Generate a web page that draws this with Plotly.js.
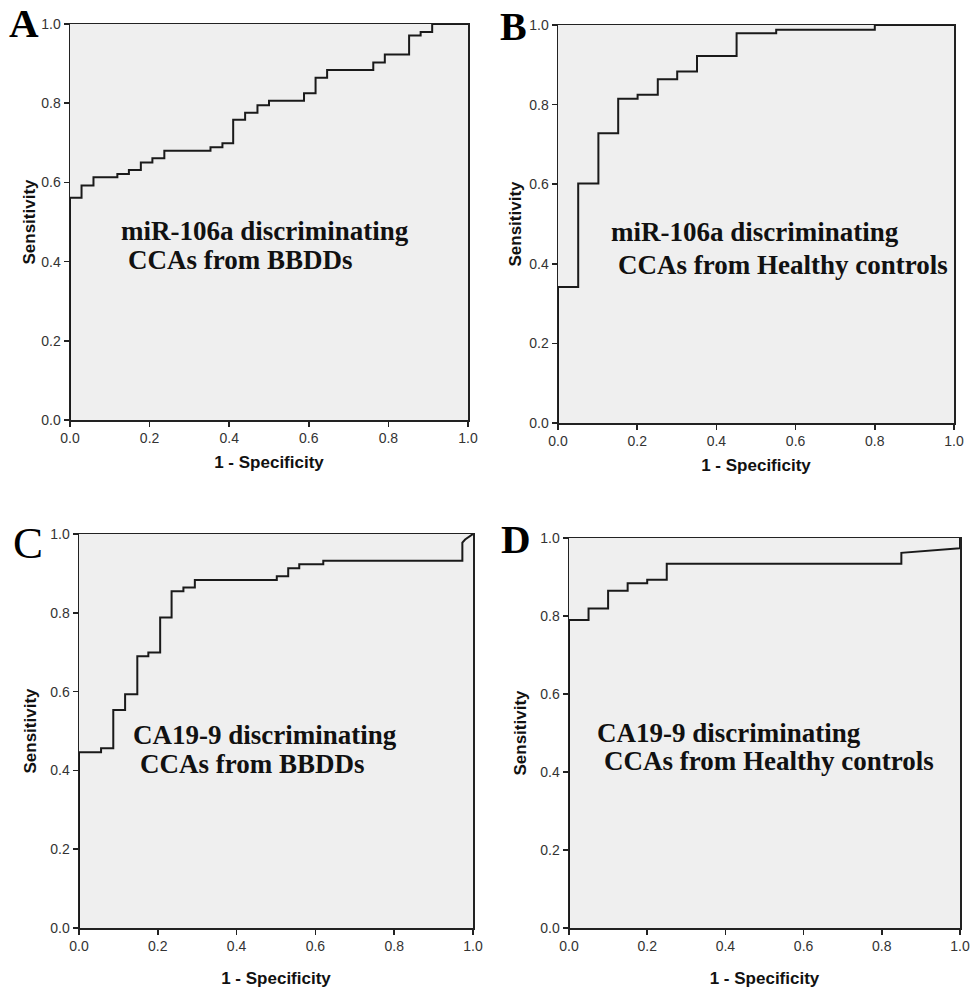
<!DOCTYPE html>
<html>
<head>
<meta charset="utf-8">
<script src="https://cdn.plot.ly/plotly-3.0.1.min.js"></script>
<style>html,body{margin:0;padding:0;background:#fff;}#chart{width:974px;height:991px;}</style>
</head>
<body>
<div id="chart"></div>
<script>
// Panel A: miR-106a, CCAs vs BBDDs (ROC coordinates: 1 - specificity, sensitivity)
var fprA = [0, 0, 0.029, 0.029, 0.059, 0.059, 0.119, 0.119, 0.148, 0.148, 0.178, 0.178, 0.207, 0.207, 0.237, 0.237, 0.353, 0.353, 0.383, 0.383, 0.410, 0.410, 0.440, 0.440, 0.471, 0.471, 0.500, 0.500, 0.588, 0.588, 0.617, 0.617, 0.646, 0.646, 0.762, 0.762, 0.791, 0.791, 0.852, 0.852, 0.881, 0.881, 0.910, 0.910, 1.0];
var tprA = [0, 0.561, 0.561, 0.592, 0.592, 0.613, 0.613, 0.621, 0.621, 0.631, 0.631, 0.650, 0.650, 0.661, 0.661, 0.680, 0.680, 0.689, 0.689, 0.699, 0.699, 0.758, 0.758, 0.776, 0.776, 0.795, 0.795, 0.806, 0.806, 0.825, 0.825, 0.864, 0.864, 0.884, 0.884, 0.903, 0.903, 0.923, 0.923, 0.971, 0.971, 0.980, 0.980, 1.0, 1.0];

// Panel B: miR-106a, CCAs vs healthy controls
var fprB = [0, 0, 0.051, 0.051, 0.102, 0.102, 0.152, 0.152, 0.201, 0.201, 0.252, 0.252, 0.301, 0.301, 0.351, 0.351, 0.451, 0.451, 0.551, 0.551, 0.800, 0.800, 1.0];
var tprB = [0, 0.342, 0.342, 0.602, 0.602, 0.728, 0.728, 0.815, 0.815, 0.825, 0.825, 0.864, 0.864, 0.883, 0.883, 0.922, 0.922, 0.979, 0.979, 0.988, 0.988, 1.0, 1.0];

// Panel C: CA19-9, CCAs vs BBDDs
var fprC = [0, 0, 0.056, 0.056, 0.087, 0.087, 0.117, 0.117, 0.148, 0.148, 0.176, 0.176, 0.206, 0.206, 0.235, 0.235, 0.265, 0.265, 0.294, 0.294, 0.502, 0.502, 0.531, 0.531, 0.559, 0.559, 0.620, 0.620, 0.973, 0.973, 0.980, 1.0];
var tprC = [0, 0.446, 0.446, 0.456, 0.456, 0.553, 0.553, 0.593, 0.593, 0.690, 0.690, 0.699, 0.699, 0.788, 0.788, 0.855, 0.855, 0.864, 0.864, 0.883, 0.883, 0.893, 0.893, 0.913, 0.913, 0.923, 0.923, 0.932, 0.932, 0.978, 0.986, 1.0];

// Panel D: CA19-9, CCAs vs healthy controls
var fprD = [0, 0, 0.05, 0.05, 0.10, 0.10, 0.15, 0.15, 0.20, 0.20, 0.25, 0.25, 0.85, 0.85, 1.0, 1.0];
var tprD = [0, 0.790, 0.790, 0.819, 0.819, 0.865, 0.865, 0.884, 0.884, 0.893, 0.893, 0.934, 0.934, 0.962, 0.974, 1.0];

var panelLetters = ["A", "B", "C", "D"];
var panelLine1 = ["miR-106a discriminating", "miR-106a discriminating", "CA19-9 discriminating", "CA19-9 discriminating"];
var panelLine2 = ["CCAs from BBDDs", "CCAs from Healthy controls", "CCAs from BBDDs", "CCAs from Healthy controls"];
var tickValues = [0, 0.2, 0.4, 0.6, 0.8, 1.0];
var xTitle = "1 - Specificity";
var yTitle = "Sensitivity";

var W = 974, H = 991;
// plot-area pixel boxes [left, right, top, bottom]
var boxes = [[70, 468, 24, 420], [558, 954, 25, 423], [79, 473, 534, 928], [569, 960, 538, 928]];
var yTitleStandoff = [1, 3, 9, 9];
var xTitleStandoff = [11, 11, 19, 19];

var series = [[fprA, tprA], [fprB, tprB], [fprC, tprC], [fprD, tprD]];
var traces = [];
var layout = {
  width: W, height: H,
  margin: {l: 0, r: 0, t: 0, b: 0},
  paper_bgcolor: "#ffffff",
  plot_bgcolor: "#efefef",
  showlegend: false,
  annotations: []
};

var tickFont = {family: "Liberation Sans, Arial, sans-serif", size: 14, color: "#333333"};
var titleFont = {family: "Liberation Sans, Arial, sans-serif", size: 17, color: "#111111", weight: "bold"};

// text positions in axis coordinates, per panel
var line1Pos = [[0.123, 0.477], [0.129, 0.480], [0.132, 0.491], [0.066, 0.501]];
var line2Pos = [[0.141, 0.404], [0.146, 0.396], [0.149, 0.416], [0.084, 0.428]];
// panel letters: [x px, y center px, size, bold]
var letterPos = [[7, 23, 41, true], [498, 26, 40, true], [11, 543, 45, false], [499, 539, 41, true]];

for (var i = 0; i < 4; i++) {
  var s = i === 0 ? "" : String(i + 1);
  var b = boxes[i];
  traces.push({
    x: series[i][0], y: series[i][1],
    xaxis: "x" + s, yaxis: "y" + s,
    type: "scatter", mode: "lines",
    line: {color: "#1a1a1a", width: 2, shape: "linear"},
    hoverinfo: "x+y"
  });
  layout["xaxis" + s] = {
    domain: [b[0] / W, b[1] / W],
    anchor: "y" + s,
    range: [0, 1],
    tickvals: tickValues,
    tickformat: ".1f",
    ticks: "outside", ticklen: 5, tickwidth: 1.5, tickcolor: "#222",
    showgrid: false, zeroline: false,
    showline: true, mirror: true, linecolor: "#222", linewidth: 1.5,
    tickfont: tickFont,
    title: {text: xTitle, font: titleFont, standoff: xTitleStandoff[i]}
  };
  layout["yaxis" + s] = {
    domain: [1 - b[3] / H, 1 - b[2] / H],
    anchor: "x" + s,
    range: [0, 1],
    tickvals: tickValues,
    tickformat: ".1f",
    ticks: "outside", ticklen: 5, tickwidth: 1.5, tickcolor: "#222",
    showgrid: false, zeroline: false,
    showline: true, mirror: true, linecolor: "#222", linewidth: 1.5,
    tickfont: tickFont,
    title: {text: yTitle, font: titleFont, standoff: yTitleStandoff[i]}
  };
  var txtFont = {family: "Liberation Serif, Times New Roman, serif", size: 27, color: "#111111", weight: "bold"};
  layout.annotations.push({
    xref: "x" + s, yref: "y" + s, x: line1Pos[i][0], y: line1Pos[i][1],
    xanchor: "left", yanchor: "middle", showarrow: false,
    text: panelLine1[i], font: txtFont
  });
  layout.annotations.push({
    xref: "x" + s, yref: "y" + s, x: line2Pos[i][0], y: line2Pos[i][1],
    xanchor: "left", yanchor: "middle", showarrow: false,
    text: panelLine2[i], font: txtFont
  });
  var lp = letterPos[i];
  layout.annotations.push({
    xref: "paper", yref: "paper", x: lp[0] / W, y: 1 - lp[1] / H,
    xanchor: "left", yanchor: "middle", showarrow: false,
    text: panelLetters[i],
    font: {family: "Liberation Serif, Times New Roman, serif", size: lp[2], color: "#000000", weight: lp[3] ? "bold" : "normal"}
  });
}

Plotly.newPlot("chart", traces, layout, {displayModeBar: false, staticPlot: true});
</script>
</body>
</html>
